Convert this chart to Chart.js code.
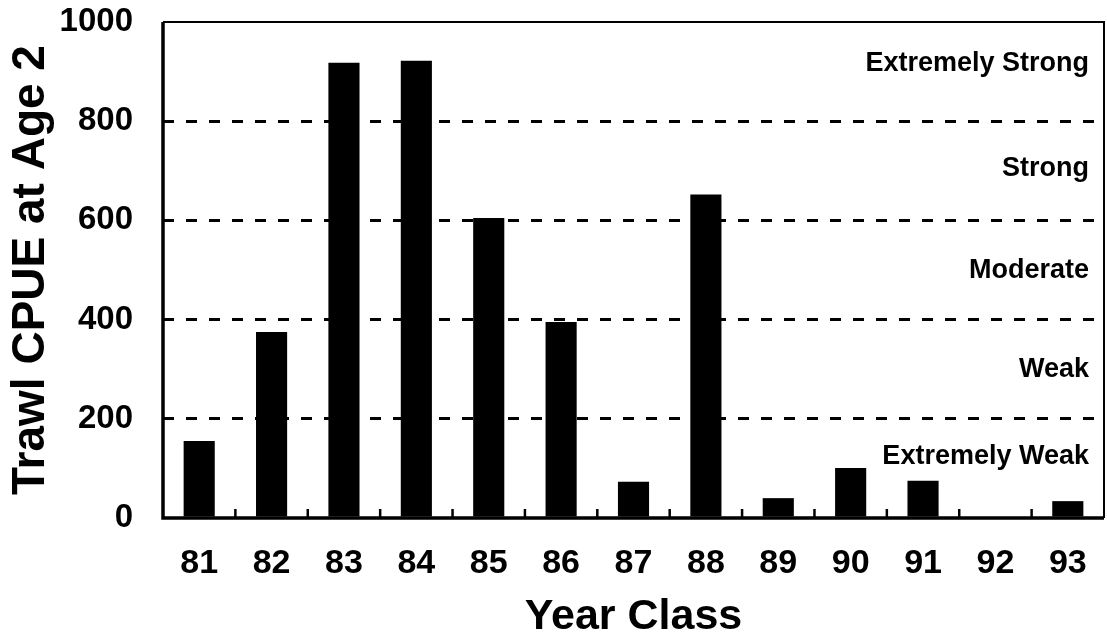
<!DOCTYPE html>
<html>
<head>
<meta charset="utf-8">
<script src="https://cdn.jsdelivr.net/npm/chart.js@4/dist/chart.umd.min.js"></script>
<style>
  html, body { margin: 0; padding: 0; background: #fff; }
  #wrap { width: 1107px; height: 639px; }
</style>
</head>
<body>
<div id="wrap"><canvas id="chart" width="1107" height="639"></canvas></div>
<script>
// year classes and trawl CPUE at age 2
var yearClass = ['81', '82', '83', '84', '85', '86', '87', '88', '89', '90', '91', '92', '93'];
var cpue = [155, 375, 918, 922, 605, 395, 73, 652, 40, 101, 75, 0, 34];
var yTicks = [0, 200, 400, 600, 800, 1000];
var zoneNames = ['Extremely Strong', 'Strong', 'Moderate', 'Weak', 'Extremely Weak'];
var zoneLabelAt = [917, 704, 498, 300, 123];

var FONT = '"Liberation Sans", Arial, sans-serif';

// frame, small inner ticks between classes, zone names
var extras = {
  id: 'extras',
  afterDatasetsDraw: function(chart) {
    var ctx = chart.ctx;
    var a = chart.chartArea;
    var x = chart.scales.x, y = chart.scales.y;
    ctx.save();
    ctx.strokeStyle = '#000';
    ctx.setLineDash([]);
    // inner ticks
    ctx.lineWidth = 2.5;
    for (var i = 0; i < yearClass.length - 1; i++) {
      var px = (x.getPixelForValue(i) + x.getPixelForValue(i + 1)) / 2;
      ctx.beginPath();
      ctx.moveTo(px, a.bottom);
      ctx.lineTo(px, a.bottom - 9);
      ctx.stroke();
    }
    // frame
    ctx.lineWidth = 2;
    ctx.beginPath();
    ctx.moveTo(a.left, a.top);
    ctx.lineTo(a.right, a.top);
    ctx.lineTo(a.right, a.bottom);
    ctx.stroke();
    ctx.lineWidth = 3.5;
    ctx.beginPath();
    ctx.moveTo(a.left, a.top);
    ctx.lineTo(a.left, a.bottom);
    ctx.lineTo(a.right, a.bottom);
    ctx.stroke();
    // zone names
    ctx.fillStyle = '#000';
    ctx.font = 'bold 27px ' + FONT;
    ctx.textAlign = 'right';
    ctx.textBaseline = 'middle';
    for (var j = 0; j < zoneNames.length; j++) {
      ctx.fillText(zoneNames[j], a.right - 15, y.getPixelForValue(zoneLabelAt[j]));
    }
    ctx.restore();
  }
};

var ctx = document.getElementById('chart').getContext('2d');
new Chart(ctx, {
  type: 'bar',
  data: {
    labels: yearClass,
    datasets: [{
      label: 'Trawl CPUE at Age 2',
      data: cpue,
      backgroundColor: '#000',
      borderWidth: 0,
      barPercentage: 0.43,
      categoryPercentage: 1
    }]
  },
  options: {
    responsive: false,
    devicePixelRatio: 1,
    animation: false,
    layout: { padding: { top: 22, right: 3, left: 0, bottom: 0 } },
    plugins: {
      legend: { display: false },
      tooltip: { enabled: false }
    },
    scales: {
      x: {
        grid: { display: false, drawTicks: false },
        border: { display: false },
        ticks: {
          color: '#000',
          font: { family: FONT, weight: 'bold', size: 34 },
          padding: 25
        },
        title: {
          display: true,
          text: 'Year Class',
          color: '#000',
          font: { family: FONT, weight: 'bold', size: 43 },
          padding: { top: 0, bottom: -4 }
        },
        afterFit: function(scale) {
          scale.height = 121;
          scale.paddingLeft = 0;
          scale.paddingRight = 0;
        }
      },
      y: {
        min: 0,
        max: 1000,
        afterBuildTicks: function(scale) {
          scale.ticks = yTicks.map(function(v) { return { value: v }; });
        },
        grid: {
          drawTicks: false,
          lineWidth: 3,
          color: function(c) {
            var v = c.tick && c.tick.value;
            return (v === 0 || v === 1000) ? 'rgba(0,0,0,0)' : '#000';
          }
        },
        border: { display: false, dash: [11, 12] },
        ticks: {
          color: '#000',
          font: { family: FONT, weight: 'bold', size: 33 },
          padding: 30,
          callback: function(v) { return String(v); }
        },
        title: {
          display: true,
          text: 'Trawl CPUE at Age 2',
          color: '#000',
          font: { family: FONT, weight: 'bold', size: 46 },
          padding: { top: 4, bottom: 0 }
        },
        afterFit: function(scale) {
          scale.width = 163;
          scale.paddingTop = 0;
          scale.paddingBottom = 0;
        }
      }
    }
  },
  plugins: [extras]
});
</script>
</body>
</html>
